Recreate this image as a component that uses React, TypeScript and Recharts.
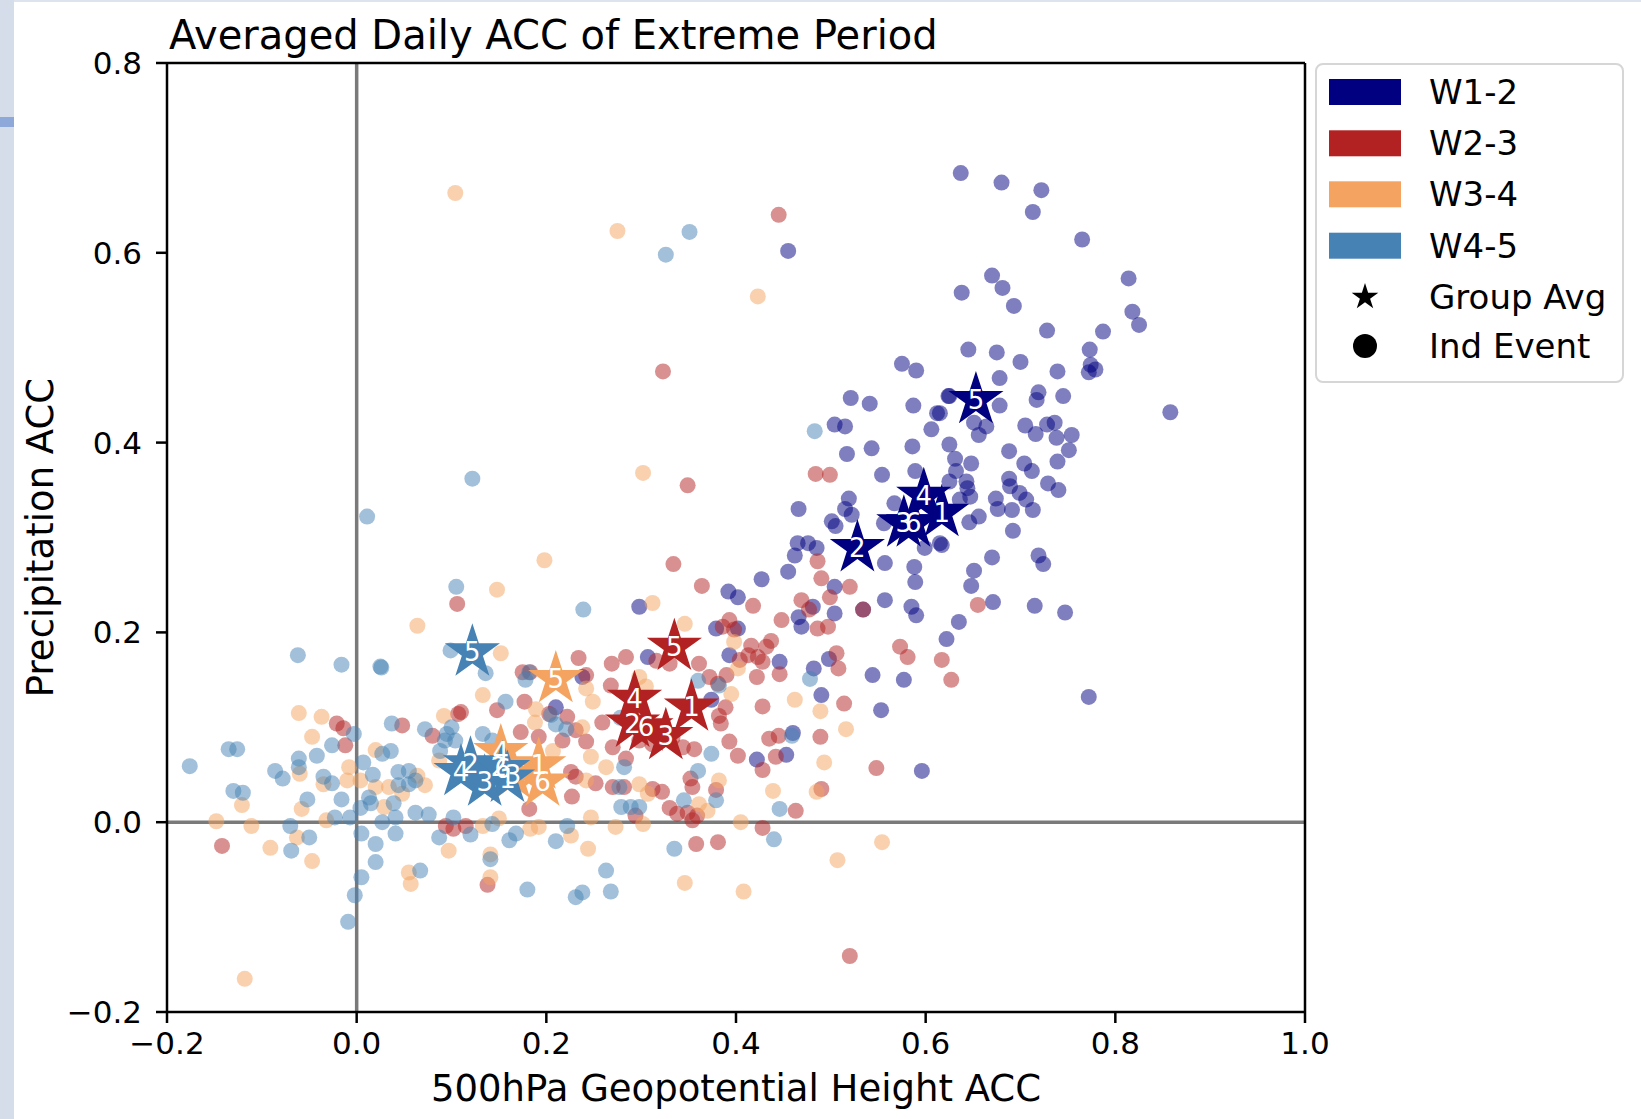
import React from 'react';
import { ScatterChart, Scatter, XAxis, YAxis, ReferenceLine } from 'recharts';

const groupNames = ['W1-2', 'W2-3', 'W3-4', 'W4-5'];
const groupColors = ['#000080', '#B22222', '#F4A460', '#4682B4'];
const xTicks = [-0.2, 0, 0.2, 0.4, 0.6, 0.8, 1.0];
const yTicks = [-0.2, 0, 0.2, 0.4, 0.6, 0.8];
const avgLabels = ['1', '2', '3', '4', '5', '6'];

const w12Events: [number, number][] = [
  [0.637,0.684],[0.680,0.674],[0.722,0.666],[0.713,0.643],[0.765,0.614],[0.670,0.576],[0.681,0.563],[0.638,0.558],[0.693,0.544],[0.814,0.573],[0.818,0.538],[0.825,0.524],[0.787,0.517],[0.728,0.518],[0.773,0.498],[0.774,0.482],[0.772,0.474],[0.779,0.477],[0.645,0.498],[0.675,0.495],[0.700,0.485],[0.739,0.475],[0.678,0.468],[0.858,0.432],[0.719,0.453],[0.717,0.445],[0.745,0.449],[0.678,0.439],[0.625,0.449],[0.615,0.431],[0.705,0.418],[0.736,0.421],[0.728,0.419],[0.716,0.409],[0.738,0.405],[0.754,0.408],[0.751,0.392],[0.688,0.391],[0.739,0.380],[0.704,0.378],[0.712,0.370],[0.651,0.421],[0.664,0.417],[0.656,0.408],[0.625,0.398],[0.631,0.383],[0.648,0.378],[0.632,0.370],[0.643,0.359],[0.625,0.359],[0.729,0.357],[0.740,0.350],[0.688,0.362],[0.689,0.354],[0.699,0.347],[0.706,0.340],[0.713,0.329],[0.674,0.341],[0.676,0.330],[0.691,0.329],[0.656,0.322],[0.646,0.316],[0.692,0.307],[0.647,0.343],
  [0.617,0.292],[0.670,0.279],[0.719,0.281],[0.724,0.272],[0.651,0.265],[0.648,0.249],[0.671,0.232],[0.715,0.228],[0.747,0.221],[0.635,0.211],[0.622,0.193],[0.772,0.132],
  [0.521,0.447],[0.541,0.441],[0.587,0.439],[0.612,0.431],[0.606,0.414],[0.624,0.449],[0.504,0.419],[0.515,0.417],[0.517,0.388],[0.543,0.394],[0.586,0.396],[0.554,0.366],[0.589,0.370],[0.644,0.352],[0.466,0.330],[0.519,0.341],[0.515,0.330],[0.522,0.324],[0.501,0.317],[0.505,0.312],[0.556,0.315],[0.567,0.336],[0.636,0.340],[0.615,0.294],[0.599,0.289],[0.465,0.294],[0.476,0.294],[0.485,0.289],[0.462,0.281],[0.455,0.264],[0.427,0.256],[0.504,0.248],[0.504,0.220],[0.481,0.227],[0.466,0.216],[0.469,0.206],[0.557,0.273],[0.588,0.269],[0.589,0.253],[0.557,0.234],[0.585,0.227],[0.590,0.218],[0.534,0.224],
  [0.392,0.243],[0.402,0.237],[0.379,0.204],[0.402,0.204],[0.393,0.176],[0.446,0.169],[0.482,0.162],[0.498,0.172],[0.490,0.134],[0.544,0.155],[0.577,0.150],[0.553,0.118],[0.460,0.094],[0.453,0.071],[0.422,0.066],[0.596,0.054],[0.374,0.129],
  [0.210,0.121],[0.238,0.153],[0.307,0.174],[0.455,0.602],[0.298,0.227],[0.575,0.483],[0.590,0.476],
];

const w23Events: [number, number][] = [
  [0.655,0.229],[0.617,0.171],[0.627,0.150],
  [0.484,0.367],[0.499,0.366],[0.486,0.275],[0.490,0.257],[0.520,0.248],[0.499,0.237],[0.469,0.234],[0.477,0.224],[0.486,0.204],[0.497,0.206],[0.448,0.213],[0.437,0.191],[0.432,0.185],[0.573,0.185],[0.581,0.174],[0.506,0.178],[0.534,0.224],
  [0.364,0.249],[0.418,0.228],[0.386,0.206],[0.393,0.213],[0.398,0.203],[0.416,0.186],[0.423,0.174],[0.428,0.169],[0.422,0.153],[0.446,0.156],[0.404,0.171],[0.390,0.155],[0.381,0.146],[0.361,0.167],[0.372,0.153],[0.389,0.121],[0.382,0.112],[0.384,0.104],[0.393,0.085],[0.402,0.070],[0.356,0.077],[0.352,0.046],[0.354,0.037],[0.379,0.034],[0.428,0.122],[0.435,0.088],[0.445,0.091],[0.442,0.069],[0.428,0.055],[0.508,0.162],[0.514,0.125],[0.489,0.090],[0.548,0.057],[0.490,0.035],[0.463,0.012],[0.428,-0.006],[0.381,-0.021],[0.413,0.176],
  [0.234,0.173],[0.269,0.167],[0.284,0.174],[0.175,0.158],[0.183,0.158],[0.242,0.155],[0.268,0.144],[0.177,0.127],[0.148,0.118],[0.110,0.116],[0.203,0.114],[0.222,0.111],[0.259,0.105],[0.231,0.097],[0.173,0.095],[0.192,0.090],[0.242,0.085],[0.217,0.086],[0.270,0.079],[0.284,0.067],[0.226,0.053],[0.231,0.048],[0.227,0.027],[0.252,0.041],[0.270,0.037],[0.282,0.037],[0.312,0.035],[0.322,0.032],[0.330,0.015],[0.338,0.009],[0.349,0.010],[0.354,0.002],[0.359,0.007],[0.294,0.007],[0.182,0.014],[0.115,-0.004],[0.138,-0.066],[0.358,-0.023],[0.298,0.086],[0.312,0.082],[0.333,0.089],[0.344,0.079],[0.316,0.170],[0.330,0.167],
  [-0.021,0.104],[-0.014,0.099],[-0.012,0.081],[0.048,0.102],[0.107,0.114],[-0.142,-0.025],[0.080,0.091],[0.094,-0.004],[0.102,-0.007],
  [0.445,0.640],[0.323,0.475],[0.349,0.355],[0.334,0.272],[0.106,0.230],[0.520,-0.141],
];

const w34Events: [number, number][] = [
  [0.462,0.129],[0.489,0.117],[0.516,0.098],[0.493,0.063],[0.439,0.033],[0.485,0.032],[0.405,0.000],[0.554,-0.021],[0.507,-0.040],[0.382,0.044],[0.361,0.019],[0.370,0.012],[0.398,0.190],[0.402,0.162],[0.346,0.209],[0.395,0.135],
  [0.152,0.178],[0.133,0.134],[0.092,0.112],[0.189,0.119],[0.188,0.105],[0.238,0.100],[0.207,0.075],[0.247,0.069],[0.263,0.058],[0.242,0.044],[0.298,0.040],[0.307,0.030],[0.247,0.005],[0.302,-0.002],[0.273,-0.005],[0.226,-0.014],[0.192,-0.005],[0.183,-0.007],[0.097,-0.030],[0.141,-0.034],[0.244,-0.028],[0.141,-0.058],[0.346,-0.064],[0.298,0.153],[0.305,0.143],[0.242,0.141],[0.249,0.127],[0.133,-0.004],[0.150,0.004],
  [-0.061,0.115],[-0.037,0.111],[-0.047,0.090],[-0.060,0.051],[-0.008,0.058],[-0.010,0.044],[-0.035,0.040],[0.004,0.044],[0.020,0.076],[0.034,0.037],[0.029,0.016],[0.048,0.030],[0.072,0.039],[0.064,0.049],[-0.058,0.014],[-0.032,0.002],[-0.121,0.018],[-0.148,0.001],[-0.111,-0.004],[-0.091,-0.027],[-0.063,-0.016],[-0.047,-0.041],[0.055,-0.053],[0.057,-0.065],[0.087,0.065],[0.020,0.037],
  [0.104,0.663],[0.275,0.623],[0.423,0.554],[0.302,0.368],[0.198,0.276],[0.148,0.245],[0.312,0.231],[0.064,0.207],[-0.118,-0.165],[0.408,-0.073],
];

const w45Events: [number, number][] = [
  [0.459,0.091],[0.446,0.014],[0.440,-0.018],[0.374,0.072],[0.360,0.054],[0.379,0.023],[0.345,0.023],[0.382,0.144],[0.360,0.149],[0.478,0.151],[0.483,0.412],
  [0.099,0.181],[0.136,0.157],[0.182,0.158],[0.178,0.150],[0.157,0.127],[0.210,0.103],[0.221,0.098],[0.205,0.113],[0.100,0.100],[0.093,0.086],[0.133,0.093],[0.143,0.086],[0.278,0.110],[0.282,0.058],[0.277,0.037],[0.289,0.016],[0.279,0.016],[0.298,0.016],[0.102,0.005],[0.120,-0.013],[0.143,-0.002],[0.161,-0.019],[0.168,-0.012],[0.210,-0.020],[0.222,-0.004],[0.141,-0.039],[0.263,-0.051],[0.180,-0.071],[0.238,-0.074],[0.268,-0.073],[0.335,-0.028],[0.231,-0.079],
  [-0.062,0.176],[-0.016,0.166],[0.026,0.163],[0.037,0.104],[0.072,0.098],[0.095,0.093],[-0.135,0.077],[-0.126,0.077],[-0.176,0.059],[-0.061,0.067],[-0.061,0.058],[-0.042,0.070],[-0.026,0.081],[-0.003,0.093],[-0.086,0.054],[-0.078,0.046],[-0.130,0.033],[-0.120,0.031],[-0.035,0.048],[-0.026,0.041],[-0.016,0.024],[-0.052,0.024],[0.007,0.063],[0.027,0.072],[0.036,0.075],[0.017,0.050],[0.044,0.053],[0.055,0.054],[0.044,0.039],[0.055,0.040],[0.062,0.044],[0.039,0.020],[0.013,0.026],[0.015,0.020],[0.004,0.015],[-0.023,0.005],[-0.007,0.005],[0.027,0.000],[0.041,0.005],[0.062,0.010],[0.076,0.008],[-0.070,-0.004],[-0.050,-0.016],[-0.069,-0.030],[0.005,-0.012],[0.020,-0.023],[0.041,-0.012],[0.020,-0.042],[0.005,-0.058],[-0.002,-0.077],[0.067,-0.051],[0.087,-0.016],[0.088,0.075],[0.104,0.086],
  [0.326,0.598],[0.351,0.622],[0.122,0.362],[0.011,0.322],[0.105,0.248],[0.239,0.224],[0.025,0.164],[-0.009,-0.105],
];

// group averages, in order of avgLabels (1..6)
const w12Avg: [number, number][] = [[0.617,0.326],[0.528,0.289],[0.577,0.315],[0.598,0.344],[0.653,0.445],[0.587,0.315]];
const w23Avg: [number, number][] = [[0.353,0.121],[0.291,0.104],[0.326,0.091],[0.293,0.130],[0.335,0.185],[0.305,0.100]];
const w34Avg: [number, number][] = [[0.192,0.060],[0.150,0.058],[0.165,0.050],[0.152,0.074],[0.210,0.151],[0.196,0.042]];
const w45Avg: [number, number][] = [[0.159,0.046],[0.120,0.061],[0.135,0.042],[0.110,0.053],[0.122,0.179],[0.154,0.056]];

const eventSets = [w12Events, w23Events, w34Events, w45Events];
const avgSets = [w12Avg, w23Avg, w34Avg, w45Avg];

const FONT = 'DejaVu Sans';

function starPoints(cx: number, cy: number, R: number) {
  const r = R * 0.381966;
  const pts: string[] = [];
  for (let i = 0; i < 10; i++) {
    const rad = i % 2 === 0 ? R : r;
    const a = -Math.PI / 2 + (i * Math.PI) / 5;
    pts.push(`${(cx + rad * Math.cos(a)).toFixed(2)},${(cy + rad * Math.sin(a)).toFixed(2)}`);
  }
  return pts.join(' ');
}

const fmt = (v: number) => (v < -1e-9 ? '\u2212' : '') + Math.abs(v).toFixed(1);

const makeDot = (color: string) => (props: any) => {
  if (props.cx == null || props.cy == null) return <g />;
  return <circle cx={props.cx} cy={props.cy} r={8} fill={color} fillOpacity={0.5} stroke="none" />;
};

const makeStar = (color: string) => (props: any) => {
  if (props.cx == null || props.cy == null) return <g />;
  return <polygon points={starPoints(props.cx, props.cy, 29)} fill={color} stroke="none" />;
};

const starLabel = (props: any) => {
  if (props.cx == null || props.cy == null) return <g />;
  return (
    <text x={props.cx} y={props.cy} textAnchor="middle" dominantBaseline="central" fill="#ffffff" fontSize={26} fontFamily={FONT}>
      {props.payload.label}
    </text>
  );
};

export default function App() {
  const eventData = eventSets.map((set) => set.map(([x, y]) => ({ x, y })));
  const avgData = avgSets.map((set) => set.map(([x, y], i) => ({ x, y, label: avgLabels[i] })));
  const legendRows = [92, 143.3, 194.3, 245.7];

  return (
    <div style={{ position: 'absolute', left: 0, top: 0, width: 1641, height: 1119, background: '#ffffff', fontFamily: FONT, overflow: 'hidden' }}>
      <div style={{ position: 'absolute', left: 0, top: 0, width: 14, height: 1119, background: '#d5dcea' }} />
      <div style={{ position: 'absolute', left: 0, top: 117, width: 14, height: 10, background: '#8ea8d9' }} />
      <div style={{ position: 'absolute', left: 14, top: 0, width: 1627, height: 2, background: '#dde3ef' }} />
      <div style={{ position: 'absolute', left: 0, top: 0 }}>
        <ScatterChart width={1641} height={1119} margin={{ top: 63, right: 336, bottom: 0, left: 0 }}>
          <XAxis
            type="number"
            dataKey="x"
            domain={[-0.2, 1.0]}
            ticks={xTicks}
            tickFormatter={fmt}
            height={107}
            tickSize={11}
            tickMargin={9}
            tick={{ fontSize: 31, fill: '#000', fontFamily: FONT }}
            axisLine={{ stroke: '#000', strokeWidth: 2.5 }}
            tickLine={{ stroke: '#000', strokeWidth: 2.5 }}
            label={(p: any) => {
              const vb = p.viewBox || { x: 167, y: 1012, width: 1138, height: 107 };
              return (
                <text x={vb.x + vb.width / 2} y={vb.y + 76} textAnchor="middle" dominantBaseline="central" fontSize={37} fontFamily={FONT} fill="#000">
                  500hPa Geopotential Height ACC
                </text>
              );
            }}
          />
          <YAxis
            type="number"
            dataKey="y"
            domain={[-0.2, 0.8]}
            ticks={yTicks}
            tickFormatter={fmt}
            width={167}
            tickSize={11}
            tickMargin={14}
            tick={{ fontSize: 31, fill: '#000', fontFamily: FONT }}
            axisLine={{ stroke: '#000', strokeWidth: 2.5 }}
            tickLine={{ stroke: '#000', strokeWidth: 2.5 }}
            label={(p: any) => {
              const vb = p.viewBox || { x: 0, y: 63, width: 167, height: 949 };
              const cx = vb.x + 40;
              const cy = vb.y + vb.height / 2;
              return (
                <text x={cx} y={cy} transform={`rotate(-90 ${cx} ${cy})`} textAnchor="middle" dominantBaseline="central" fontSize={37} fontFamily={FONT} fill="#000">
                  Precipitation ACC
                </text>
              );
            }}
          />
          {eventData.map((d, i) => (
            <Scatter key={'ev' + i} name={groupNames[i]} data={d} shape={makeDot(groupColors[i])} isAnimationActive={false} />
          ))}
          <ReferenceLine x={0} stroke="#7a7a7a" strokeWidth={3.5} />
          <ReferenceLine y={0} stroke="#7a7a7a" strokeWidth={3.5} />
          {avgData.map((d, i) => (
            <Scatter key={'avg' + i} name={groupNames[i] + ' avg'} data={d} shape={makeStar(groupColors[i])} isAnimationActive={false} />
          ))}
          {avgData.map((d, i) => (
            <Scatter key={'lbl' + i} name={groupNames[i] + ' label'} data={d} shape={starLabel} isAnimationActive={false} />
          ))}
          <ReferenceLine y={0.8} stroke="#000" strokeWidth={2.5} />
          <ReferenceLine x={1.0} stroke="#000" strokeWidth={2.5} />
        </ScatterChart>
      </div>
      <svg width={1641} height={1119} style={{ position: 'absolute', left: 0, top: 0, pointerEvents: 'none' }}>
        <text x={169} y={35} dominantBaseline="central" fontSize={40} fontFamily={FONT} fill="#000">
          Averaged Daily ACC of Extreme Period
        </text>
        <rect x={1316} y={64} width={307} height={318} rx={7} ry={7} fill="#ffffff" stroke="#d6d6d6" strokeWidth={2} />
        {groupNames.map((g, i) => (
          <g key={g}>
            <rect x={1329} y={legendRows[i] - 13} width={72} height={26} fill={groupColors[i]} />
            <text x={1429} y={legendRows[i]} dominantBaseline="central" fontSize={34} fontFamily={FONT} fill="#000">{g}</text>
          </g>
        ))}
        <polygon points={starPoints(1365, 297, 14)} fill="#000" />
        <text x={1429} y={297} dominantBaseline="central" fontSize={34} fontFamily={FONT} fill="#000">Group Avg</text>
        <circle cx={1365} cy={346} r={12} fill="#000" />
        <text x={1429} y={346} dominantBaseline="central" fontSize={34} fontFamily={FONT} fill="#000">Ind Event</text>
      </svg>
    </div>
  );
}
